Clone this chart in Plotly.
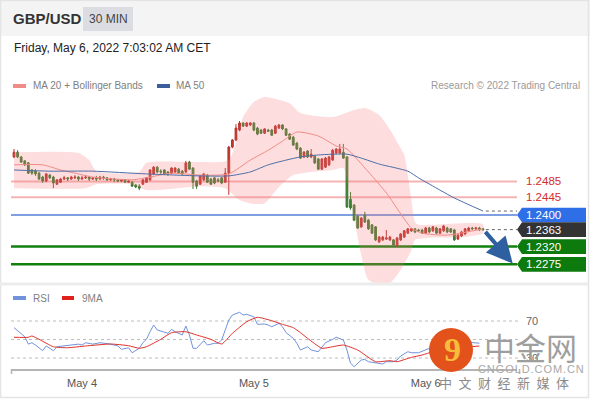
import pandas as pd
import plotly.graph_objects as go

# ---------------- data ----------------
opens = [1.2547, 1.2559, 1.2547, 1.2537, 1.2532, 1.2514, 1.2511, 1.2506, 1.2496, 1.2486,
         1.2501, 1.2496, 1.2478, 1.2483, 1.2491, 1.2494, 1.2491, 1.2494, 1.2496, 1.2491,
         1.2494, 1.2496, 1.2491, 1.2494, 1.2491, 1.2496, 1.2494, 1.2489, 1.2491, 1.2489,
         1.2486, 1.2489, 1.2483, 1.2483, 1.2476, 1.2473, 1.2478, 1.2483, 1.2489, 1.2504,
         1.2521, 1.2511, 1.2514, 1.2509, 1.2506, 1.2509, 1.2516, 1.2511, 1.2509, 1.2534,
         1.2519, 1.2486, 1.2478, 1.2489, 1.2501, 1.2491, 1.2494, 1.2489, 1.2494, 1.2483,
         1.2506, 1.2572, 1.2590, 1.2615, 1.2633, 1.2625, 1.2628, 1.2633, 1.2620, 1.2615,
         1.2607, 1.2615, 1.2615, 1.2607, 1.2620, 1.2628, 1.2618, 1.2605, 1.2597, 1.2582,
         1.2569, 1.2547, 1.2562, 1.2547, 1.2549, 1.2542, 1.2516, 1.2521, 1.2527, 1.2539,
         1.2557, 1.2557, 1.2559, 1.2547, 1.2440, 1.2425, 1.2397, 1.2370, 1.2400, 1.2387,
         1.2375, 1.2370, 1.2332, 1.2337, 1.2339, 1.2337, 1.2337, 1.2322, 1.2337, 1.2344,
         1.2354, 1.2360, 1.2365, 1.2362, 1.2362, 1.2354, 1.2367, 1.2360, 1.2367, 1.2354,
         1.2360, 1.2367, 1.2365, 1.2362, 1.2339, 1.2347, 1.2352, 1.2360, 1.2367, 1.2365,
         1.2367, 1.2365]
highs = [1.2567, 1.2564, 1.2549, 1.2539, 1.2534, 1.2516, 1.2516, 1.2509, 1.2499, 1.2506,
         1.2504, 1.2499, 1.2491, 1.2494, 1.2499, 1.2496, 1.2499, 1.2501, 1.2499, 1.2499,
         1.2501, 1.2499, 1.2496, 1.2499, 1.2499, 1.2499, 1.2496, 1.2494, 1.2494, 1.2491,
         1.2491, 1.2491, 1.2489, 1.2486, 1.2478, 1.2478, 1.2491, 1.2496, 1.2516, 1.2524,
         1.2524, 1.2516, 1.2516, 1.2511, 1.2521, 1.2521, 1.2519, 1.2514, 1.2537, 1.2537,
         1.2521, 1.2489, 1.2501, 1.2506, 1.2504, 1.2494, 1.2496, 1.2494, 1.2496, 1.2519,
         1.2575, 1.2592, 1.2630, 1.2638, 1.2635, 1.2635, 1.2635, 1.2635, 1.2623, 1.2618,
         1.2620, 1.2618, 1.2618, 1.2628, 1.2630, 1.2630, 1.2620, 1.2607, 1.2600, 1.2585,
         1.2572, 1.2562, 1.2564, 1.2567, 1.2552, 1.2544, 1.2544, 1.2547, 1.2549, 1.2567,
         1.2569, 1.2580, 1.2580, 1.2549, 1.2458, 1.2428, 1.2400, 1.2395, 1.2408, 1.2390,
         1.2377, 1.2372, 1.2347, 1.2347, 1.2362, 1.2347, 1.2339, 1.2344, 1.2354, 1.2362,
         1.2367, 1.2367, 1.2367, 1.2365, 1.2365, 1.2370, 1.2370, 1.2372, 1.2370, 1.2367,
         1.2375, 1.2370, 1.2367, 1.2365, 1.2352, 1.2360, 1.2367, 1.2370, 1.2370, 1.2370,
         1.2370, 1.2367]
lows = [1.2544, 1.2544, 1.2532, 1.2524, 1.2504, 1.2501, 1.2499, 1.2489, 1.2481, 1.2483,
        1.2491, 1.2468, 1.2476, 1.2481, 1.2489, 1.2486, 1.2489, 1.2491, 1.2486, 1.2489,
        1.2491, 1.2486, 1.2489, 1.2486, 1.2489, 1.2489, 1.2486, 1.2486, 1.2483, 1.2483,
        1.2483, 1.2481, 1.2481, 1.2471, 1.2468, 1.2463, 1.2476, 1.2481, 1.2486, 1.2501,
        1.2506, 1.2504, 1.2501, 1.2499, 1.2504, 1.2506, 1.2504, 1.2501, 1.2506, 1.2514,
        1.2466, 1.2466, 1.2476, 1.2486, 1.2481, 1.2476, 1.2478, 1.2483, 1.2478, 1.2481,
        1.2451, 1.2569, 1.2587, 1.2612, 1.2623, 1.2623, 1.2625, 1.2612, 1.2602, 1.2605,
        1.2605, 1.2610, 1.2600, 1.2605, 1.2618, 1.2615, 1.2600, 1.2590, 1.2575, 1.2564,
        1.2542, 1.2544, 1.2544, 1.2544, 1.2529, 1.2514, 1.2514, 1.2519, 1.2524, 1.2537,
        1.2554, 1.2554, 1.2542, 1.2418, 1.2413, 1.2385, 1.2365, 1.2367, 1.2380, 1.2362,
        1.2352, 1.2334, 1.2329, 1.2334, 1.2337, 1.2334, 1.2322, 1.2319, 1.2334, 1.2342,
        1.2352, 1.2357, 1.2354, 1.2357, 1.2352, 1.2352, 1.2354, 1.2357, 1.2352, 1.2352,
        1.2357, 1.2354, 1.2354, 1.2334, 1.2337, 1.2344, 1.2349, 1.2357, 1.2362, 1.2362,
        1.2360, 1.2360]
closes = [1.2559, 1.2547, 1.2534, 1.2527, 1.2506, 1.2506, 1.2504, 1.2491, 1.2486, 1.2504,
          1.2494, 1.2481, 1.2489, 1.2491, 1.2494, 1.2491, 1.2496, 1.2496, 1.2491, 1.2494,
          1.2496, 1.2491, 1.2494, 1.2491, 1.2496, 1.2494, 1.2489, 1.2491, 1.2489, 1.2486,
          1.2489, 1.2483, 1.2486, 1.2473, 1.2471, 1.2468, 1.2489, 1.2494, 1.2514, 1.2521,
          1.2509, 1.2509, 1.2504, 1.2504, 1.2519, 1.2519, 1.2506, 1.2504, 1.2532, 1.2516,
          1.2483, 1.2473, 1.2499, 1.2504, 1.2483, 1.2478, 1.2481, 1.2486, 1.2481, 1.2506,
          1.2572, 1.2590, 1.2620, 1.2633, 1.2625, 1.2633, 1.2633, 1.2615, 1.2605, 1.2607,
          1.2618, 1.2612, 1.2602, 1.2625, 1.2628, 1.2618, 1.2602, 1.2592, 1.2577, 1.2567,
          1.2544, 1.2559, 1.2547, 1.2554, 1.2532, 1.2516, 1.2542, 1.2544, 1.2547, 1.2564,
          1.2567, 1.2567, 1.2544, 1.2420, 1.2418, 1.2387, 1.2367, 1.2392, 1.2382, 1.2365,
          1.2354, 1.2337, 1.2344, 1.2344, 1.2342, 1.2344, 1.2324, 1.2342, 1.2352, 1.2360,
          1.2365, 1.2365, 1.2357, 1.2360, 1.2354, 1.2367, 1.2357, 1.2370, 1.2354, 1.2365,
          1.2372, 1.2357, 1.2357, 1.2337, 1.2349, 1.2357, 1.2365, 1.2367, 1.2365, 1.2367,
          1.2362, 1.2363]

ma20_idx = [0, 8, 13, 17, 22, 33, 38, 44, 52, 60, 66, 71, 75, 79, 85, 90, 93, 99, 104, 111, 114, 121, 131]
ma20 = [1.2527, 1.2527, 1.2514, 1.2506, 1.2496, 1.2489, 1.2496, 1.2506, 1.2501, 1.2504, 1.2539,
        1.2564, 1.2587, 1.2610, 1.2600, 1.2575, 1.2567, 1.2509, 1.2456, 1.2367, 1.2354, 1.2349, 1.2365]

bb_up_idx = [0, 18, 21, 23, 35, 37, 52, 60, 64, 67, 70, 77, 80, 89, 95, 98, 102, 106, 107, 109,
             110, 111, 112, 113, 116, 131]
bb_up = [1.2559, 1.2557, 1.2539, 1.2511, 1.2509, 1.2532, 1.2534, 1.2539, 1.2648, 1.2686, 1.2699,
         1.2683, 1.2658, 1.2648, 1.2666, 1.2671, 1.2653, 1.2602, 1.2584, 1.2552, 1.2501, 1.2438,
         1.2382, 1.2375, 1.2375, 1.2377]
bb_lo_idx = [0, 20, 23, 33, 37, 52, 59, 63, 67, 70, 74, 78, 83, 89, 92, 94, 97, 99, 104, 108,
             111, 112, 116, 125, 131]
bb_lo = [1.2468, 1.2468, 1.2478, 1.2478, 1.2463, 1.2473, 1.2468, 1.2438, 1.2428, 1.2430, 1.2471,
         1.2501, 1.2509, 1.2514, 1.2519, 1.2438, 1.2299, 1.2236, 1.2220, 1.2261, 1.2311, 1.2337,
         1.2342, 1.2344, 1.2354]

ma50_idx = [0, 10, 22, 37, 52, 60, 66, 71, 76, 80, 85, 93, 97, 102, 110, 113, 119, 123, 131]
ma50 = [1.2514, 1.2511, 1.2511, 1.2504, 1.2499, 1.2499, 1.2509, 1.2527, 1.2539, 1.2547, 1.2552,
        1.2554, 1.2544, 1.2529, 1.2511, 1.2494, 1.2463, 1.2443, 1.2410]

rsi_idx = [0, 2, 3, 4, 5, 6, 8, 9, 11, 12, 14, 16, 18, 19, 20, 22, 24, 27, 29, 30, 32, 33, 35, 36,
           37, 38, 39, 40, 42, 43, 44, 45, 47, 48, 49, 50, 51, 53, 54, 56, 57, 58, 60, 61, 63, 64,
           65, 67, 68, 70, 71, 72, 74, 75, 76, 78, 79, 80, 82, 83, 85, 86, 87, 89, 90, 92, 93, 94,
           95, 97, 98, 99, 101, 103, 104, 106, 107, 108, 110, 111, 113, 115, 117, 119, 122, 125,
           127, 130]
rsi = [62.8, 56.7, 53.0, 45.0, 46.5, 44.0, 37.9, 43.0, 37.9, 42.2, 43.0, 44.0, 45.0, 44.0, 46.5,
       45.0, 46.5, 45.0, 43.0, 39.4, 41.0, 35.7, 40.5, 46.5, 50.2, 58.4, 65.7, 60.3, 58.4, 56.7,
       61.0, 58.4, 54.9, 64.6, 54.9, 40.5, 40.5, 48.7, 44.0, 45.9, 45.9, 49.5, 71.0, 76.5, 79.4,
       76.5, 77.2, 74.6, 66.4, 66.8, 65.7, 63.8, 67.5, 63.8, 57.4, 51.3, 46.0, 38.6, 42.2, 38.6,
       36.8, 42.2, 46.5, 50.2, 52.4, 49.5, 38.6, 24.3, 20.6, 27.8, 28.5, 26.0, 24.9, 23.5, 26.0,
       26.0, 27.8, 32.2, 36.8, 35.7, 35.7, 38.6, 42.2, 45.0, 40.0, 44.0, 47.0, 46.0]
ma9_idx = [0, 4, 5, 7, 11, 15, 20, 27, 32, 35, 37, 41, 44, 48, 51, 55, 58, 61, 65, 68, 72, 75,
           78, 80, 82, 86, 89, 92, 96, 101, 105, 107, 111, 114, 117, 122, 130]
ma9 = [52.4, 52.4, 53.8, 50.2, 42.2, 41.1, 43.0, 45.1, 43.3, 40.5, 42.2, 50.2, 57.4, 58.4, 54.9,
       50.2, 45.1, 56.7, 69.2, 74.0, 70.3, 66.4, 62.8, 57.4, 51.3, 40.5, 42.2, 44.0, 38.6, 26.0,
       27.1, 26.0, 30.7, 33.2, 36.8, 40.0, 43.0]

resistances = [1.2485, 1.2445]
pivot = 1.2400
supports = [1.2320, 1.2275]
rsi_levels = [70, 50, 30]
rsi_labels = [70, 30]
tick_labels = ["May 4", "May 5", "May 6"]
tick_days = ["2022-05-04", "2022-05-05", "2022-05-06"]

# ---------------- geometry helpers ----------------
W, H = 590, 400
ML, MR = 11, 73
PW = W - ML - MR
FONT = "Liberation Sans, Arial, sans-serif"
CJK = "Noto Sans CJK SC"


def PX(x):
    return (x - ML) / PW


def PY(y):
    return (H - y) / H


T0 = pd.Timestamp("2022-05-03 14:30")
STEP = pd.Timedelta(minutes=30)


def T(i):
    return T0 + STEP * i


times = [T(i) for i in range(len(closes))]
x_range = [T(-0.84), T(140.5)]

fig = go.Figure()

# Bollinger band area
band_x = [T(i) for i in bb_up_idx] + [T(i) for i in reversed(bb_lo_idx)]
band_y = bb_up + bb_lo[::-1]
fig.add_trace(go.Scatter(x=band_x, y=band_y, fill="toself", fillcolor="rgba(248,120,120,0.25)",
                         line=dict(width=0, color="rgba(0,0,0,0)", shape="spline", smoothing=0.6),
                         mode="lines", hoverinfo="skip"))
fig.add_trace(go.Scatter(x=[T(i) for i in ma20_idx], y=ma20, mode="lines",
                         line=dict(color="#f08c86", width=1, shape="spline", smoothing=0.6)))
fig.add_trace(go.Scatter(x=[T(i) for i in ma50_idx], y=ma50, mode="lines",
                         line=dict(color="#4d6ea8", width=1, shape="spline", smoothing=0.6)))
fig.add_trace(go.Candlestick(x=times, open=opens, high=highs, low=lows, close=closes,
                             increasing=dict(line=dict(color="#b8322e", width=1), fillcolor="#c8352f"),
                             decreasing=dict(line=dict(color="#3b7a32", width=1), fillcolor="#3f8034"),
                             whiskerwidth=0, hoverinfo="skip"))

# RSI panel
fig.add_trace(go.Scatter(x=[T(i) for i in rsi_idx], y=rsi, mode="lines", yaxis="y2",
                         line=dict(color="#7193dc", width=1)))
fig.add_trace(go.Scatter(x=[T(i) for i in ma9_idx], y=ma9, mode="lines", yaxis="y2",
                         line=dict(color="#e0302a", width=1, shape="spline", smoothing=0.5)))

shapes = []
ann = []

# header band and frame
shapes.append(dict(type="rect", xref="paper", yref="paper", x0=PX(0), x1=PX(590), y0=PY(36), y1=PY(0),
                   fillcolor="#f4f4f4", line=dict(width=0), layer="below"))
shapes.append(dict(type="rect", xref="paper", yref="paper", x0=PX(83), x1=PX(133), y0=PY(31), y1=PY(7),
                   fillcolor="#dcdde2", line=dict(width=0), layer="below"))
shapes.append(dict(type="rect", xref="paper", yref="paper", x0=PX(0.5), x1=PX(588.5), y0=PY(397.5), y1=PY(0.5),
                   line=dict(color="#e4e4e4", width=1.5)))
shapes.append(dict(type="line", xref="paper", yref="paper", x0=PX(0), x1=PX(588), y0=PY(284), y1=PY(284),
                   line=dict(color="#ececec", width=3)))

# level lines
for v in resistances:
    shapes.append(dict(type="line", xref="paper", yref="y", x0=0, x1=1, y0=v, y1=v,
                       line=dict(color="#f4b4b4", width=2), layer="below"))
shapes.append(dict(type="line", xref="paper", yref="y", x0=0, x1=1, y0=pivot, y1=pivot,
                   line=dict(color="#7e9fe2", width=2), layer="below"))
for v in supports:
    shapes.append(dict(type="line", xref="paper", yref="y", x0=0, x1=1, y0=v, y1=v,
                       line=dict(color="#11800f", width=2.5), layer="below"))

# dotted extensions
last_close = closes[-1]
for v in [ma50[-1], last_close]:
    shapes.append(dict(type="line", xref="x", yref="y", x0=T(len(closes) - 0.2), x1=x_range[1], y0=v, y1=v,
                       line=dict(color="#666666", width=1, dash="dot")))

# tags
TAG = "M0,0 L5,7.3 L69,7.3 L69,-7.3 L5,-7.3 Z"
for v, col in [(pivot, "#2e6fe8"), (last_close, "#333333"), (supports[0], "#0d7a0d"), (supports[1], "#0d7a0d")]:
    shapes.append(dict(type="path", xref="paper", yref="y", xsizemode="pixel", ysizemode="pixel",
                       xanchor=1, yanchor=v, path=TAG, fillcolor=col, line=dict(width=0)))
    ann.append(dict(xref="paper", yref="y", x=1, y=v, xanchor="left", xshift=7, text=f"{v:.4f}",
                    showarrow=False, font=dict(family=FONT, size=11.5, color="white")))
for v in resistances:
    ann.append(dict(xref="paper", yref="y", x=1, y=v, xanchor="left", xshift=7, text=f"{v:.4f}",
                    showarrow=False, font=dict(family=FONT, size=11.5, color="#d42c2c")))

# forecast arrow
ann.append(dict(xref="x", yref="y", axref="x", ayref="y", x=T(139.3), y=supports[1] + 0.0002,
                ax=T(len(closes) - 0.7), ay=last_close - 0.0002, text="", showarrow=True,
                arrowhead=2, arrowsize=1.3, arrowwidth=4, arrowcolor="#2e5f9f", standoff=0))

# RSI dotted levels
for v in rsi_levels:
    shapes.append(dict(type="line", xref="paper", yref="y2", x0=0, x1=1.006, y0=v, y1=v,
                       line=dict(color="#bdbdbd", width=1, dash="dot"), layer="below"))
for v in rsi_labels:
    ann.append(dict(xref="paper", yref="y2", x=PX(524), y=v, xanchor="left", text=str(v),
                    showarrow=False, font=dict(family=FONT, size=11, color="#666")))

# axis end ticks
for xx in [11.5, 519.5]:
    shapes.append(dict(type="line", xref="paper", yref="paper", x0=PX(xx), x1=PX(xx), y0=PY(369), y1=PY(374),
                       line=dict(color="#b5b5b5", width=1.5)))

# legends
shapes.append(dict(type="rect", xref="paper", yref="paper", x0=PX(13), x1=PX(26), y0=PY(88), y1=PY(84),
                   fillcolor="#f08c86", line=dict(width=0)))
shapes.append(dict(type="rect", xref="paper", yref="paper", x0=PX(157), x1=PX(170), y0=PY(88), y1=PY(84),
                   fillcolor="#3b5f9c", line=dict(width=0)))
shapes.append(dict(type="rect", xref="paper", yref="paper", x0=PX(13), x1=PX(26), y0=PY(300), y1=PY(296),
                   fillcolor="#7193dc", line=dict(width=0)))
shapes.append(dict(type="rect", xref="paper", yref="paper", x0=PX(62), x1=PX(74), y0=PY(300), y1=PY(296),
                   fillcolor="#e0201a", line=dict(width=0)))


def text(x, y, s, size, color, anchor="left", family=FONT):
    ann.append(dict(xref="paper", yref="paper", x=PX(x), y=PY(y), xanchor=anchor, yanchor="middle",
                    text=s, showarrow=False, font=dict(family=family, size=size, color=color)))


text(11, 19, "<b>GBP/USD</b>", 15, "#333333")
text(108, 19, "30 MIN", 12, "#444444", "center")
text(12, 48, "Friday, May 6, 2022 7:03:02 AM CET", 12, "#222222")
text(31, 86, "MA 20 + Bollinger Bands", 10, "#808080")
text(174, 86, "MA 50", 10, "#808080")
text(582, 86, "Research © 2022 Trading Central", 10, "#9a9a9a", "right")
text(31, 298, "RSI", 10, "#808080")
text(80, 298, "9MA", 10, "#808080")

# watermark
shapes.append(dict(type="circle", xref="paper", yref="paper", x0=PX(429), x1=PX(473), y0=PY(372), y1=PY(328),
                   fillcolor="#e4521c", line=dict(width=0)))
text(452, 349, "<b>9</b>", 34, "#f7bd3a", "center", "Liberation Serif")
text(530, 346, "中金网", 31, "#9e9e9e", "center", CJK)
text(531, 369, "\u200a".join("CNGOLD.COM.CN"), 11, "#a8a8a8", "center")
text(504, 382, "\u2002".join("中文财经新媒体"), 13, "#8a8a8a", "center", CJK)

fig.update_layout(
    width=W, height=H, margin=dict(l=ML, r=MR, t=0, b=0),
    paper_bgcolor="white", plot_bgcolor="white", showlegend=False,
    xaxis=dict(domain=[0, 1], range=x_range, anchor="y2", showline=True, linecolor="#b5b5b5", linewidth=2,
               ticks="", tickvals=[pd.Timestamp(d) for d in tick_days], ticktext=tick_labels,
               tickfont=dict(family=FONT, size=11, color="#555555"), ticklabelstandoff=3,
               showgrid=False, zeroline=False, rangeslider=dict(visible=False), fixedrange=True),
    yaxis=dict(domain=[PY(283), PY(93)], range=[1.22278, 1.27089], visible=False, fixedrange=True),
    yaxis2=dict(domain=[PY(369), PY(288)], range=[18.1, 105.7], visible=False, fixedrange=True),
    shapes=shapes, annotations=ann,
)

fig.write_html("out.html", config={"displayModeBar": False},
               post_script="document.body.style.margin='0px';document.body.style.overflow='hidden';")
